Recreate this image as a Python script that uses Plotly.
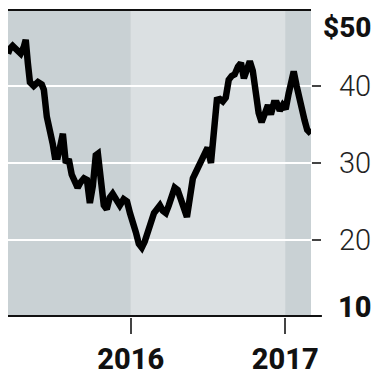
import plotly.graph_objects as go

dates = [
    "2015-03-16", "2015-03-20", "2015-03-27", "2015-04-06", "2015-04-15", "2015-04-22",
    "2015-04-27", "2015-05-02", "2015-05-07", "2015-05-16", "2015-05-26", "2015-06-04",
    "2015-06-09", "2015-06-16", "2015-06-23", "2015-06-30", "2015-07-05", "2015-07-12",
    "2015-07-19", "2015-07-24", "2015-07-31", "2015-08-07", "2015-08-14", "2015-08-21",
    "2015-08-28", "2015-09-04", "2015-09-12", "2015-09-19", "2015-09-26", "2015-10-03",
    "2015-10-10", "2015-10-15", "2015-10-22", "2015-10-29", "2015-11-05", "2015-11-12",
    "2015-11-19", "2015-11-26", "2015-12-06", "2015-12-15", "2015-12-23", "2015-12-30",
    "2016-01-06", "2016-01-13", "2016-01-20", "2016-01-27", "2016-02-03", "2016-02-10",
    "2016-02-17", "2016-02-25", "2016-03-03", "2016-03-10", "2016-03-17", "2016-03-24",
    "2016-03-31", "2016-04-07", "2016-04-14", "2016-04-21", "2016-04-29", "2016-05-06",
    "2016-05-13", "2016-05-20", "2016-05-27", "2016-06-03", "2016-06-10", "2016-06-17",
    "2016-06-24", "2016-07-01", "2016-07-09", "2016-07-16", "2016-07-23", "2016-07-30",
    "2016-08-06", "2016-08-13", "2016-08-20", "2016-08-27", "2016-09-03", "2016-09-11",
    "2016-09-18", "2016-09-25", "2016-10-02", "2016-10-09", "2016-10-16", "2016-10-23",
    "2016-10-30", "2016-11-06", "2016-11-14", "2016-11-21", "2016-11-28", "2016-12-05",
    "2016-12-12", "2016-12-19", "2016-12-26", "2017-01-02", "2017-01-09", "2017-01-17",
    "2017-01-21", "2017-01-28", "2017-02-04", "2017-02-10", "2017-02-16", "2017-02-22",
    "2017-03-03",
]
prices = [
    44.2, 44.8, 45.2, 44.6, 44.2, 45.0,
    46.0, 43.0, 40.5, 40.0, 40.5, 40.2,
    39.5, 36.0, 34.5, 32.5, 30.8, 30.8,
    32.5, 33.8, 30.0, 30.5, 28.5, 27.5,
    26.8, 27.5, 28.0, 27.8, 24.8, 27.0,
    31.0, 31.2, 28.5, 24.5, 24.0, 25.5,
    26.0, 25.2, 24.5, 25.3, 25.0, 23.5,
    22.5, 21.0, 19.5, 19.0, 19.8, 21.0,
    22.0, 23.5, 24.0, 24.5, 23.8, 23.5,
    24.5, 25.5, 26.8, 26.5, 25.0, 24.0,
    23.0, 25.5, 28.0, 28.8, 29.5, 30.5,
    31.0, 32.0, 30.0, 33.5, 38.2, 38.3,
    38.0, 38.5, 40.8, 41.3, 41.5, 42.5,
    43.0, 41.0, 42.5, 43.2, 42.0, 39.0,
    36.5, 35.3, 36.5, 37.5, 36.3, 37.8,
    37.8, 36.8, 37.5, 37.0, 39.0, 41.5,
    41.9, 40.0, 38.0, 37.3, 35.5, 34.3,
    33.8,
]

x_start, x_end = "2015-03-16", "2017-03-03"
year_starts = ["2016-01-01", "2017-01-01"]
year_labels = ["2016", "2017"]
y_min, y_max = 10, 50
y_ticks = [20, 30, 40]
y_label_vals = [50, 40, 30, 20, 10]
y_label_text = ["$50", "40", "30", "20", "10"]

DARK = "#c9d1d4"
LIGHT = "#dbe0e2"
FONT = "Roboto"

fig = go.Figure()
fig.add_trace(go.Scatter(
    x=dates, y=prices, mode="lines",
    line=dict(color="#000000", width=6.5, shape="linear"),
    hoverinfo="skip", showlegend=False,
))

# background bands
bands = [(x_start, year_starts[0], DARK), (year_starts[0], year_starts[1], LIGHT), (year_starts[1], x_end, DARK)]
for x0, x1, c in bands:
    fig.add_shape(type="rect", xref="x", yref="y", x0=x0, x1=x1, y0=y_min, y1=y_max,
                  fillcolor=c, line=dict(width=0), layer="below")

# top and bottom rules
fig.add_shape(type="line", xref="paper", yref="y", x0=0, x1=1, y0=y_max, y1=y_max,
              line=dict(color="#111111", width=4), layer="above")
fig.add_shape(type="line", xref="paper", yref="y", x0=0, x1=1.036, y0=y_min, y1=y_min,
              line=dict(color="#111111", width=4), layer="above")

# y labels
for v, t in zip(y_label_vals, y_label_text):
    bold = v in (y_min, y_max)
    shift = -18 if v == y_max else (10 if v == y_min else 0)
    fig.add_annotation(
        xref="paper", yref="y", x=1.2, y=v, xanchor="right", yanchor="middle",
        text=t, showarrow=False, yshift=shift, borderpad=0,
        font=dict(family=FONT, size=28 if v == y_max else 29,
                  color="#111111" if bold else "#222222",
                  weight=800 if bold else 300),
    )

# page body has an 8px default margin, so the figure is sized to fit the 380x375 window
fig.update_layout(
    width=372, height=367,
    margin=dict(l=0, r=69, t=1, b=58),
    paper_bgcolor="white", plot_bgcolor=LIGHT,
    xaxis=dict(
        type="date", range=[x_start, x_end], showgrid=False, zeroline=False,
        tickvals=year_starts, ticktext=year_labels, ticks="outside",
        ticklen=16, tickwidth=2, tickcolor="#444444",
        tickfont=dict(family=FONT, size=29, color="#111111", weight=800),
        showline=False,
    ),
    yaxis=dict(
        range=[y_min, y_max], side="right", tickvals=y_ticks, showticklabels=False,
        ticks="outside", ticklen=9, tickwidth=2, tickcolor="#444444",
        showgrid=True, gridcolor="white", gridwidth=2, zeroline=False, showline=False,
    ),
)

fig.write_html("out.html", config={"displayModeBar": False})
